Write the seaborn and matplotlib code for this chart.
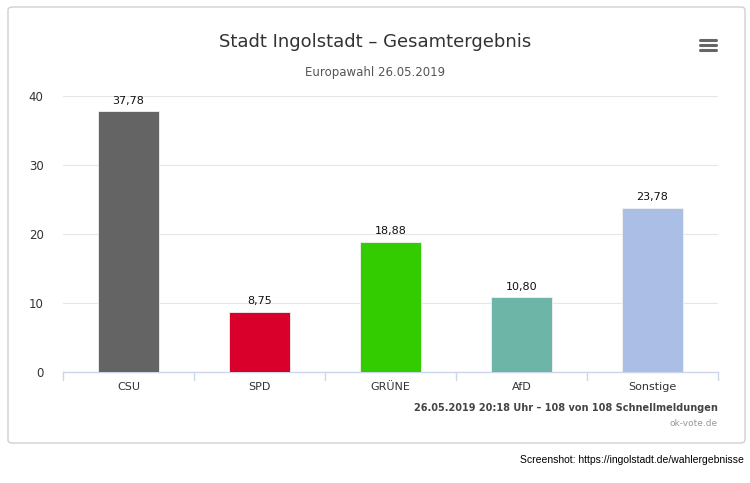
import matplotlib
matplotlib.use('Agg')
import matplotlib.pyplot as plt
import seaborn as sns
import pandas as pd
from matplotlib.patches import FancyBboxPatch
from matplotlib.lines import Line2D

# Daten
parteien = ['CSU', 'SPD', 'GRÜNE', 'AfD', 'Sonstige']
prozent = [37.78, 8.75, 18.88, 10.80, 23.78]
farben = ['#646464', '#d9002b', '#33cc00', '#6db5a6', '#abbee6']
y_ticks = [0, 10, 20, 30, 40]

sns.set_style('white')
plt.rcParams['font.family'] = ['DejaVu Sans']

df = pd.DataFrame({'Partei': parteien, 'Prozent': prozent})

W, H = 750, 483
fig = plt.figure(figsize=(W / 100, H / 100), dpi=100)
fig.patch.set_facecolor('white')

# Karte mit Rahmen (hinter den Achsen)
card = FancyBboxPatch((8 / W, 1 - 443 / H), 737 / W, 436 / H,
                      boxstyle='round,pad=0,rounding_size=0.006',
                      transform=fig.transFigure, facecolor='white',
                      edgecolor='#d0d0d0', linewidth=1.0, zorder=-5)
fig.add_artist(card)

ax = fig.add_axes([63 / W, 1 - 372 / H, 655 / W, 276 / H])
ax.patch.set_alpha(0)
sns.barplot(data=df, x='Partei', y='Prozent', hue='Partei', palette=farben,
            legend=False, width=0.47, saturation=1, edgecolor='#f2f2f2',
            linewidth=0.6, ax=ax, zorder=3)

ax.set_ylim(0, 40)
ax.set_xlim(-0.5, len(parteien) - 0.5)
ax.set_yticks(y_ticks)
ax.set_yticklabels([str(t) for t in y_ticks], fontsize=8.5, color='#333333')
ax.tick_params(axis='y', length=0, pad=14)
ax.tick_params(axis='x', length=0, pad=7, labelsize=8, labelcolor='#333333')
ax.yaxis.grid(True, color='#e6e6e6', linewidth=0.8, zorder=0)
ax.set_axisbelow(True)
ax.set_xlabel('')
ax.set_ylabel('')
for s in ['top', 'right', 'left']:
    ax.spines[s].set_visible(False)
ax.spines['bottom'].set_color('#ccd6eb')
ax.spines['bottom'].set_linewidth(1.0)

# Kategorie-Trennstriche unter der Achse
for i in range(len(parteien) + 1):
    ax.plot([i - 0.5, i - 0.5], [0, -1.2], color='#ccd6eb', lw=1.0,
            clip_on=False, zorder=2)

# Werte über den Balken
for i, v in enumerate(prozent):
    ax.annotate(f'{v:.2f}'.replace('.', ','), (i, v), xytext=(0, 4),
                textcoords='offset points', ha='center', va='bottom',
                fontsize=8, color='#111111')

fig.text(375 / W, 1 - 42 / H, 'Stadt Ingolstadt – Gesamtergebnis',
         ha='center', va='center', fontsize=13, color='#333333')
fig.text(375 / W, 1 - 72 / H, 'Europawahl 26.05.2019',
         ha='center', va='center', fontsize=8.5, color='#555555')

# Menü-Symbol
for yy in [40, 45, 50]:
    fig.add_artist(Line2D([700 / W, 716 / W], [1 - yy / H, 1 - yy / H],
                          transform=fig.transFigure, color='#666666', lw=2.2))

fig.text(718 / W, 1 - 408 / H, '26.05.2019 20:18 Uhr – 108 von 108 Schnellmeldungen',
         ha='right', va='center', fontsize=7, fontweight='bold', color='#444444')
fig.text(718 / W, 1 - 423 / H, 'ok-vote.de',
         ha='right', va='center', fontsize=6.5, color='#999999')
fig.text(744 / W, 1 - 460 / H, 'Screenshot: https://ingolstadt.de/wahlergebnisse',
         ha='right', va='center', fontsize=7.5, color='#000000',
         family=['Liberation Sans', 'DejaVu Sans'])

fig.savefig('out.png', dpi=100)
